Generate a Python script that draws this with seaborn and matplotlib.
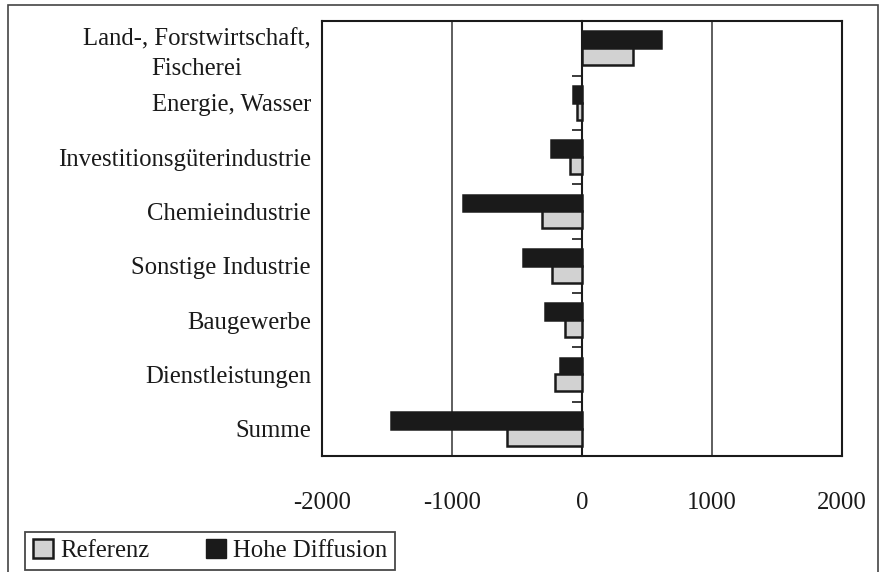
import matplotlib
matplotlib.use("Agg")
import matplotlib.pyplot as plt
import seaborn as sns
import pandas as pd
from matplotlib.patches import Patch, Rectangle

categories = [
    "Land-, Forstwirtschaft,\nFischerei",
    "Energie, Wasser",
    "Investitionsgüterindustrie",
    "Chemieindustrie",
    "Sonstige Industrie",
    "Baugewerbe",
    "Dienstleistungen",
    "Summe",
]
referenz = [390, -43, -97, -309, -232, -134, -211, -581]
hohe_diffusion = [610, -70, -236, -913, -458, -288, -167, -1472]
x_ticks = [-2000, -1000, 0, 1000, 2000]

sns.set_theme(style="white")
plt.rcParams["font.family"] = ["Liberation Serif", "DejaVu Serif"]
plt.rcParams["axes.unicode_minus"] = False

df = pd.DataFrame({
    "Sektor": categories * 2,
    "Wert": hohe_diffusion + referenz,
    "Szenario": ["Hohe Diffusion"] * len(categories) + ["Referenz"] * len(categories),
})

fig = plt.figure(figsize=(8.8, 5.72), dpi=100)
ax = fig.add_axes([0.366, 0.203, 0.591, 0.760])

palette = {"Hohe Diffusion": "#1a1a1a", "Referenz": "#d2d2d2"}
sns.barplot(data=df, y="Sektor", x="Wert", hue="Szenario",
            hue_order=["Hohe Diffusion", "Referenz"], order=categories,
            palette=palette, orient="h", width=0.62, ax=ax,
            edgecolor="#1a1a1a", linewidth=1.8, legend=False, saturation=1)

ax.set_xlim(-2000, 2000)
ax.set_ylim(len(categories) - 0.5, -0.5)
ax.set_xticks(x_ticks)
ax.set_xticklabels([str(v) for v in x_ticks], fontsize=17.8, color="#1a1a1a")
ax.tick_params(axis="x", length=0, pad=26)
ax.tick_params(axis="y", length=0, pad=8)
for lbl in ax.get_yticklabels():
    lbl.set_fontsize(17.8)
    lbl.set_color("#1a1a1a")
    lbl.set_multialignment("center")
    lbl.set_linespacing(1.45)
ax.set_xlabel("")
ax.set_ylabel("")

for v in [-1000, 1000]:
    ax.axvline(v, color="#333333", lw=1.1, zorder=0)

for s in ax.spines.values():
    s.set_color("#1a1a1a")
    s.set_linewidth(1.5)

# zero axis with category separator ticks
sec = ax.secondary_yaxis(0.5)
sec.set_yticks([i + 0.5 for i in range(len(categories) - 1)])
sec.set_yticklabels([])
sec.tick_params(axis="y", direction="in", length=7, width=1.2, color="#1a1a1a")
for sp in sec.spines.values():
    sp.set_color("#1a1a1a")
    sp.set_linewidth(1.5)

handles = [
    Patch(facecolor=palette["Referenz"], edgecolor="#1a1a1a", linewidth=1.8, label="Referenz"),
    Patch(facecolor=palette["Hohe Diffusion"], edgecolor="#1a1a1a", linewidth=1.0, label="Hohe Diffusion"),
]
leg = fig.legend(handles=handles, loc="lower left", bbox_to_anchor=(0.026, 0.0),
                 ncol=2, fontsize=17.8, frameon=True, fancybox=False,
                 handlelength=0.8, handleheight=0.8, handletextpad=0.3,
                 columnspacing=2.3, borderpad=0.3, borderaxespad=0.1)
leg.get_frame().set_edgecolor("#1a1a1a")
leg.get_frame().set_linewidth(1.3)
for t in leg.get_texts():
    t.set_color("#1a1a1a")

fig.patches.append(Rectangle((0.009, -0.01), 0.989, 1.001, transform=fig.transFigure,
                             fill=False, edgecolor="#444444", lw=1.2))

fig.savefig("out.png", dpi=100)
